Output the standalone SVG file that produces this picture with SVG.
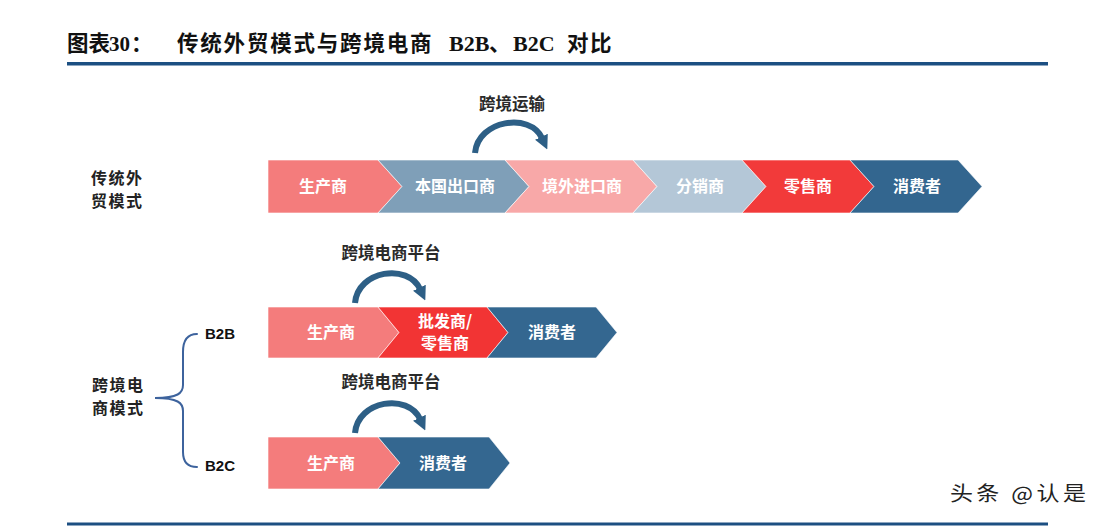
<svg xmlns="http://www.w3.org/2000/svg" width="1112" height="530" viewBox="0 0 1112 530">
<style>
.t{font-family:"Noto Sans CJK SC","Liberation Sans",sans-serif;font-weight:bold;fill:#111}
.ser{font-family:"Liberation Serif","Noto Sans CJK SC",serif;font-weight:bold;fill:#111}
.lbl{font-family:"Noto Sans CJK SC",sans-serif;font-weight:bold;font-size:16px;fill:#fff;text-anchor:middle}
.side{font-family:"Noto Sans CJK SC",sans-serif;font-weight:bold;font-size:16px;fill:#222}
.plat{font-family:"Noto Sans CJK SC",sans-serif;font-weight:bold;font-size:16.5px;fill:#2a2a2a;text-anchor:middle}
.bb{font-family:"Liberation Sans",sans-serif;font-weight:bold;font-size:15px;fill:#111}
.chev{stroke:#fff;stroke-width:1;stroke-opacity:.6}
.arc{fill:none;stroke:#2d5f86;stroke-width:6;marker-end:url(#ah)}
.brace{fill:none;stroke:#3d639d;stroke-width:2;stroke-linecap:round}
</style>
<defs>
<marker id="ah" markerUnits="userSpaceOnUse" markerWidth="14" markerHeight="14" viewBox="0 0 10 10" refX="1" refY="5" orient="auto">
<path d="M0,0 L10,5 L0,10 Z" fill="#2d5f86"/>
</marker>
</defs>
<rect width="1112" height="530" fill="#fff"/>
<g id="title">
<text class="t" font-size="21.5" y="51"><tspan x="67">图表</tspan></text>
<text class="ser" font-size="21" y="51"><tspan x="109">30</tspan></text>
<text class="t" font-size="21.5" y="51"><tspan x="131">：</tspan></text>
<text class="t" font-size="21.5" y="51" letter-spacing="1.8"><tspan x="177">传统外贸模式与跨境电商</tspan></text>
<text class="ser" font-size="22" y="51"><tspan x="449">B2B</tspan></text>
<text class="t" font-size="21.5" y="51"><tspan x="489">、</tspan></text>
<text class="ser" font-size="22" y="51"><tspan x="513">B2C</tspan></text>
<text class="t" font-size="21.5" y="51" letter-spacing="1.5"><tspan x="567">对比</tspan></text>
<rect x="67" y="62" width="981" height="3.5" fill="#1c4f82"/>
</g>

<g id="label-traditional">
<text class="side" x="91" y="184" letter-spacing="1.5">传统外</text>
<text class="side" x="91" y="207" letter-spacing="1.5">贸模式</text>
</g>
<g id="label-cbec">
<text class="side" x="92" y="391" letter-spacing="1.5">跨境电</text>
<text class="side" x="92" y="414" letter-spacing="1.5">商模式</text>
</g>
<g id="label-b2b"><text class="bb" x="205" y="339">B2B</text></g>
<g id="label-b2c"><text class="bb" x="205" y="471">B2C</text></g>

<g id="t1-producer"><path class="chev" d="M268,160 H378 L402,186.5 L378,213 H268 Z" fill="#f47c7c"/><text class="lbl" x="323" y="192">生产商</text></g>
<g id="t1-exporter"><path class="chev" d="M378,160 H505 L529,186.5 L505,213 H378 L402,186.5 Z" fill="#7f9fb8"/><text class="lbl" x="455" y="192">本国出口商</text></g>
<g id="t1-importer"><path class="chev" d="M505,160 H633 L657,186.5 L633,213 H505 L529,186.5 Z" fill="#f8a8a8"/><text class="lbl" x="582" y="192">境外进口商</text></g>
<g id="t1-distributor"><path class="chev" d="M633,160 H742 L766,186.5 L742,213 H633 L657,186.5 Z" fill="#b4c7d7"/><text class="lbl" x="700" y="192">分销商</text></g>
<g id="t1-retailer"><path class="chev" d="M742,160 H850 L874,186.5 L850,213 H742 L766,186.5 Z" fill="#f23a3a"/><text class="lbl" x="808" y="192">零售商</text></g>
<g id="t1-consumer"><path class="chev" d="M850,160 H958 L982,186.5 L958,213 H850 L874,186.5 Z" fill="#33668f"/><text class="lbl" x="917" y="192">消费者</text></g>

<g id="b2b-producer"><path class="chev" d="M268,307 H378 L399,332.5 L378,358 H268 Z" fill="#f47c7c"/><text class="lbl" x="331" y="338">生产商</text></g>
<g id="b2b-wholesaler"><path class="chev" d="M378,307 H487 L508,332.5 L487,358 H378 L399,332.5 Z" fill="#f23434"/><text class="lbl" x="445" y="327" font-size="15">批发商/</text><text class="lbl" x="445" y="349" font-size="15">零售商</text></g>
<g id="b2b-consumer"><path class="chev" d="M487,307 H596 L617,332.5 L596,358 H487 L508,332.5 Z" fill="#346790"/><text class="lbl" x="552" y="338">消费者</text></g>

<g id="b2c-producer"><path class="chev" d="M268,437 H378 L400,463 L378,489 H268 Z" fill="#f47c7c"/><text class="lbl" x="331" y="469">生产商</text></g>
<g id="b2c-consumer"><path class="chev" d="M378,437 H489 L510,463 L489,489 H378 L400,463 Z" fill="#346790"/><text class="lbl" x="443" y="469">消费者</text></g>

<g id="connectors">
<path class="arc" d="M475,153 C478,120 530,112 542,138"/>
<text class="plat" x="512" y="110" font-size="17">跨境运输</text>
<path class="arc" d="M355,303 C358,270 408,263 420,289"/>
<text class="plat" x="391" y="259">跨境电商平台</text>
<path class="arc" d="M355,433 C358,400 408,393 420,419"/>
<text class="plat" x="391" y="388">跨境电商平台</text>
<path class="brace" d="M197,334 C187,334 183,341 183,352 L183,385 C183,393 178,398 155,398 C178,398 183,403 183,411 L183,452 C183,462 187,467 197,467"/>
</g>

<g id="footer">
<rect x="67" y="522.5" width="981" height="3" fill="#1c4f82"/>
<text font-family="'Noto Sans CJK SC',sans-serif" font-size="20" fill="#222" x="826" y="501" letter-spacing="3" transform="scale(1.15,1)">头条 @认是</text>
</g>
</svg>
